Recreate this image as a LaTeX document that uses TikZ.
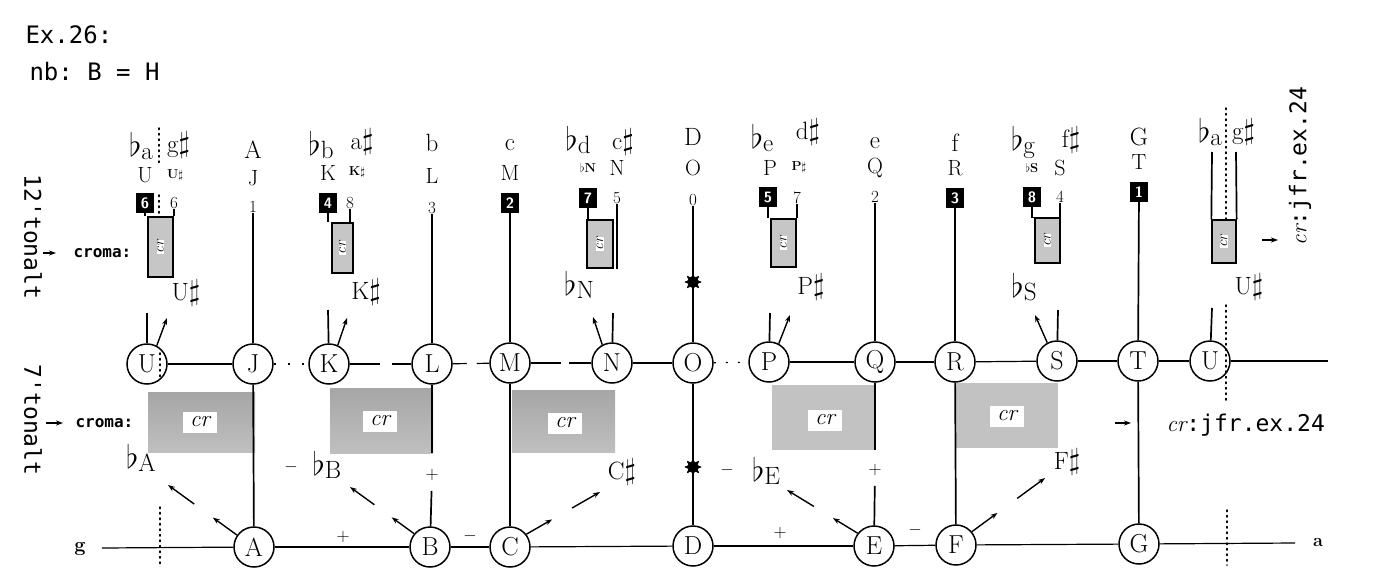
\documentclass[tikz,border=0pt]{standalone}
\usepackage{fontspec}
\usepackage{graphicx}
\setmonofont{DejaVu Sans Mono}
\usetikzlibrary{arrows.meta,calc,shapes.geometric}
\newcommand{\fs}[1]{\fontsize{#1}{#1}\selectfont}
\newcommand{\myfl}[1]{\scalebox{1.3}{$\flat$}\raisebox{-3pt}{#1}}
\newcommand{\shp}{\scalebox{1.2}{$\sharp$}}
\begin{document}
\begin{tikzpicture}[x=1pt,y=-1pt,
  circ/.style={circle,draw,line width=1.5pt,minimum size=40pt,inner sep=0pt,fill=white,font=\fs{26}},
  ln/.style={line width=1.7pt},
  hl/.style={line width=1.2pt},
  nbox/.style={fill=black,text=white,minimum width=18pt,minimum height=20pt,inner sep=0pt,font=\fs{15}\bfseries\sffamily},
  tbig/.style={inner sep=0pt,font=\fs{25}},
  tmid/.style={inner sep=0pt,font=\fs{22}},
  tsml/.style={inner sep=0pt,font=\fs{17}},
  ttny/.style={inner sep=0pt,font=\fs{13}\bfseries},
  gboxd/.style={top color=gray!70,bottom color=gray!50,draw=none,inner sep=0pt},
  gboxl/.style={fill=gray!48,draw=none,inner sep=0pt},
  crtag/.style={fill=white,inner sep=1pt,minimum width=34pt,minimum height=21pt,font=\fs{23}\itshape},
  sbox/.style={draw,line width=1.3pt,fill=gray!45,inner sep=0pt},
  crs/.style={fill=white,inner sep=0.5pt,rotate=90,font=\fs{15}\itshape},
  arr/.style={line width=1.4pt,-{Stealth[length=7pt,width=5pt]}},
  dotln/.style={line width=1.5pt,dash pattern=on 1.5pt off 4pt,line cap=round},
  strs/.style={star,star points=8,star point ratio=1.8,minimum size=17pt,fill=black,inner sep=0pt},
  sgn/.style={inner sep=0pt,font=\fs{18}},
]
\useasboundingbox (0,0) rectangle (1394,581);

% header
\node[anchor=west,font=\ttfamily\fs{24}] (ex) at (22,35) {Ex.26:};
\node[anchor=west,font=\ttfamily\fs{24}] (nb) at (26,72) {nb: B = H};
\node[rotate=-90,font=\ttfamily\fs{23}] (t12) at (33,237) {12'tonalt};
\node[rotate=-90,font=\ttfamily\fs{23}] (t7) at (33,420) {7'tonalt};
\node[anchor=west,font=\ttfamily\bfseries\fs{16}] (cro1) at (70,253) {croma:};
\node[anchor=west,font=\ttfamily\bfseries\fs{16}] (cro2) at (72,423) {croma:};
\coordinate (ca1) at (43,253); \coordinate (cb1) at (56,253);
\draw[arr] (ca1) -- (cb1);
\coordinate (ca2) at (46,423); \coordinate (cb2) at (63,423);
\draw[arr] (ca2) -- (cb2);

% grey boxes (7-tone row)
\node[gboxd,minimum width=107pt,minimum height=60pt] (gUJ) at (201.5,422) {};
\node[crtag] at (200,422) {cr};
\node[gboxd,minimum width=103pt,minimum height=65pt] (gKL) at (381.5,420.5) {};
\node[crtag] at (380,421) {cr};
\node[gboxd,minimum width=103pt,minimum height=62pt] (gMN) at (563.5,421) {};
\node[crtag] at (565,423) {cr};
\node[gboxl,minimum width=103pt,minimum height=65pt] (gPQ) at (823.5,417.5) {};
\node[crtag] at (825,420) {cr};
\node[gboxl,minimum width=103pt,minimum height=65pt] (gRS) at (1006.5,415.5) {};
\node[crtag] at (1007,416) {cr};

% middle row circles
\node[circ] (U1) at (147,364) {U};
\node[circ] (J) at (253,364) {J};
\node[circ] (K) at (329,364) {K};
\node[circ] (L) at (432,364) {L};
\node[circ] (M) at (510,363) {M};
\node[circ] (N) at (612,363) {N};
\node[circ] (O) at (693,363) {O};
\node[circ] (P) at (769,362) {P};
\node[circ] (Q) at (875,362) {Q};
\node[circ] (R) at (955,362) {R};
\node[circ] (S) at (1057,361) {S};
\node[circ] (T) at (1138,361) {T};
\node[circ] (U2) at (1210,361) {U};
\coordinate (mend) at (1328,361);

% bottom row circles
\node[circ] (A) at (254,547) {A};
\node[circ] (B) at (430,547) {B};
\node[circ] (C) at (510,547) {C};
\node[circ] (D) at (693,546) {D};
\node[circ] (E) at (874,546) {E};
\node[circ] (F) at (956,545) {F};
\node[circ] (G) at (1139,544) {G};
\coordinate (bstart) at (102,548);
\coordinate (bend) at (1295,543);
\node[inner sep=0pt,font=\fs{20}\bfseries] (gl) at (80,549) {g};
\node[inner sep=0pt,font=\fs{18}\bfseries] (al) at (1318,542) {a};

% horizontal lines
\draw[hl] (U1) -- (J);
\draw[hl,dash pattern=on 2pt off 12pt] (J) -- (K);
\draw[hl,dash pattern=on 30pt off 12pt] (K) -- (L);
\draw[hl,dash pattern=on 14pt off 10pt] (L) -- (M);
\draw[hl,dash pattern=on 30pt off 8pt] (M) -- (N);
\draw[hl] (N) -- (O);
\draw[hl,dash pattern=on 2pt off 10pt] (O) -- (P);
\draw[hl] (P) -- (Q);
\draw[hl] (Q) -- (R);
\draw[hl] (R) -- (S);
\draw[hl] (S) -- (T);
\draw[hl] (T) -- (U2);
\draw[hl] (U2) -- (mend);
\draw[hl] (bstart) -- (A);
\draw[hl] (A) -- (B);
\draw[hl] (B) -- (C);
\draw[hl] (C) -- (D);
\draw[hl] (D) -- (E);
\draw[hl] (E) -- (F);
\draw[hl] (F) -- (G);
\draw[hl] (G) -- (bend);

% ---- column U (left)
\node[tbig,anchor=east] (Ufl) at (153,146) {\myfl{a}};
\node[tbig,anchor=west] (Ush) at (167,145) {g\shp};
\node[tmid] (Ul) at (145,175) {U};
\node[ttny] (Uls) at (175,175) {U$\sharp$};
\node[nbox] (U6) at (145,203) {6};
\node[tsml] (U6b) at (174,203) {6};
\node[sbox,minimum width=25pt,minimum height=60pt] (Usb) at (160.5,247) {};
\node[crs] at (Usb) {cr};
\draw[ln] (U6) -- (U6 |- Usb.north);
\draw[ln] (U6b) -- (U6b |- Usb.north);
\node[tbig] (Ush2) at (186,293) {U\shp};
\coordinate (Ust) at (147,313);
\draw[ln] (Ust) -- (U1);
\coordinate (Uat) at (167,318);
\draw[arr] (U1.62) -- (Uat);
\coordinate (ud1) at (159,128); \coordinate (ud2) at (159,166);
\draw[dotln] (ud1) -- (ud2);
\coordinate (ud3) at (159,195); \coordinate (ud4) at (159,213);
\draw[dotln] (ud3) -- (ud4);
\coordinate (ud5) at (160,353); \coordinate (ud6) at (160,380);
\draw[dotln] (ud5) -- (ud6);
\coordinate (ud7) at (160,507); \coordinate (ud8) at (160,565);
\draw[dotln] (ud7) -- (ud8);

% ---- column J
\node[tbig] (JA) at (253,150) {A};
\node[tmid] (Jl) at (253,178) {J};
\node[tsml] (j1) at (253,207) {1};
\draw[ln] (j1) -- (J);
\draw[ln] (J) -- (A);

% ---- column K
\node[tbig] (Kfl) at (321,145) {\myfl{b}};
\node[tbig] (Ksh) at (362,142) {a\shp};
\node[tmid] (Kl) at (328,173) {K};
\node[ttny] (Kls) at (357,172) {K$\sharp$};
\node[nbox] (K4) at (328,203) {4};
\node[tsml] (K8) at (350,203) {8};
\node[sbox,minimum width=21pt,minimum height=50pt] (Ksb) at (342.5,248) {};
\node[crs] at (Ksb) {cr};
\draw[ln] (K4) -- (K4 |- Ksb.north);
\draw[ln] (K8) -- (K8 |- Ksb.north);
\node[tbig] (Ksh2) at (366,292) {K\shp};
\coordinate (Kst) at (328,310);
\draw[ln] (Kst) -- (K);
\coordinate (Kat) at (347,318);
\draw[arr] (K.65) -- (Kat);

% ---- column L
\node[tbig] (Lb) at (432,143) {b};
\node[tmid] (Ll) at (432,176) {L};
\node[tsml] (l3) at (432,208) {3};
\draw[ln] (l3) -- (L);
\coordinate (lb) at (432,453);
\draw[ln] (L) -- (lb);
\node[sgn] (lplus) at (432,475) {+};
\draw[ln,shorten <=10pt] (lplus) -- (B);

% ---- column M
\node[tbig] (Mc) at (510,145) {c};
\node[tmid] (Ml) at (510,173) {M};
\node[nbox] (M2) at (510,203) {2};
\draw[ln] (M2) -- (M);
\draw[ln] (M) -- (C);

% ---- column N
\node[tbig] (Nfl) at (578,140) {\myfl{d}};
\node[tbig] (Nsh) at (623,142) {c\shp};
\node[ttny] (Nls) at (588,168) {$\flat$N};
\node[tmid] (Nl) at (617,168) {N};
\node[nbox] (N7) at (588,198) {7};
\node[tsml] (N5) at (617,198) {5};
\node[sbox,minimum width=26pt,minimum height=48pt] (Nsb) at (600,244) {};
\node[crs] at (Nsb) {cr};
\draw[ln] (N7) -- (N7 |- Nsb.north);
\draw[line width=2.6pt] (N5) -- (N5 |- Nsb.south);
\node[tbig] (Nfl2) at (579,285) {\myfl{N}};
\coordinate (Nst) at (613,313);
\draw[ln] (Nst) -- (N);
\coordinate (Nat) at (593,317);
\draw[arr] (N.118) -- (Nat);

% ---- column O
\node[tbig] (OD) at (693,137) {D};
\node[tmid] (Ol) at (693,168) {O};
\node[tsml] (o0) at (693,200) {0};
\node[strs] (st1) at (693,282) {};
\node[strs] (st2) at (693,467) {};
\draw[line width=2.6pt] (o0) -- (O);
\draw[line width=2.6pt] (O) -- (D);
\node[strs] at (st1) {};
\node[strs] at (st2) {};

% ---- column P
\node[tbig] (Pfl) at (762,138) {\myfl{e}};
\node[tbig] (Psh) at (808,132) {d\shp};
\node[tmid] (Pl) at (770,168) {P};
\node[ttny] (Pls) at (799,167) {P$\sharp$};
\node[nbox] (P5) at (768,197) {5};
\node[tsml] (P7) at (797,198) {7};
\node[sbox,minimum width=25pt,minimum height=48pt] (Psb) at (783.5,243) {};
\node[crs] at (Psb) {cr};
\draw[ln] (P5) -- (P5 |- Psb.north);
\draw[ln] (P7) -- (P7 |- Psb.north);
\node[tbig] (Psh2) at (811,287) {P\shp};
\coordinate (Pst) at (770,313);
\draw[ln] (Pst) -- (P);
\coordinate (Pat) at (790,315);
\draw[arr] (P.62) -- (Pat);

% ---- column Q
\node[tbig] (Qe) at (875,143) {e};
\node[tmid] (Ql) at (875,168) {Q};
\node[tsml] (q2) at (875,197) {2};
\draw[ln] (q2) -- (Q);
\coordinate (qb) at (875,450);
\draw[ln] (Q) -- (qb);
\node[sgn] (qplus) at (875,470) {+};
\draw[ln,shorten <=10pt] (qplus) -- (E);

% ---- column R
\node[tbig] (Rf) at (955,143) {f};
\node[tmid] (Rl) at (955,168) {R};
\node[nbox] (R3) at (955,198) {3};
\draw[ln] (R3) -- (R);
\draw[ln] (R) -- (F);

% ---- column S
\node[tbig] (Sfl) at (1023,142) {\myfl{g}};
\node[tbig] (Ssh) at (1071,140) {f\shp};
\node[ttny] (Sls) at (1032,168) {$\flat$S};
\node[tmid] (Sl) at (1060,168) {S};
\node[nbox] (S8) at (1032,197) {8};
\node[tsml] (S4) at (1060,197) {4};
\node[sbox,minimum width=25pt,minimum height=45pt] (Ssb) at (1047.5,240.5) {};
\node[crs] at (Ssb) {cr};
\draw[ln] (S8) |- (Ssb.north west);
\draw[ln] (S4) -- (S4 |- Ssb.north);
\node[tbig] (Sfl2) at (1024,287) {\myfl{S}};
\coordinate (Sst) at (1058,310);
\draw[ln] (Sst) -- (S);
\coordinate (Sat) at (1035,315);
\draw[arr] (S.118) -- (Sat);

% ---- column T
\node[tbig] (TG) at (1139,137) {G};
\node[tmid] (Tl) at (1139,162) {T};
\node[nbox] (T1) at (1139,192) {1};
\draw[ln] (T1) -- (T);
\draw[ln] (T) -- (G);

% ---- column U (right)
\node[tbig,anchor=east] (Vfl) at (1222,132) {\myfl{a}};
\node[tbig,anchor=west] (Vsh) at (1232,132) {g\shp};
\node[sbox,minimum width=24pt,minimum height=43pt] (Vsb) at (1224,241.5) {};
\node[crs] at (Vsb) {cr};
\coordinate (vl) at (1212,152); \coordinate (vr) at (1236,152);
\draw[ln] (vl) -- (Vsb.north west);
\draw[ln] (vr) -- (Vsb.north east);
\coordinate (vd1) at (1226,108); \coordinate (vd2) at (1226,220);
\draw[dotln] (vd1) -- (vd2);
\node[tbig] (Vsh2) at (1249,287) {U\shp};
\coordinate (Vst) at (1212,308);
\draw[ln] (Vst) -- (U2);
\coordinate (vd3) at (1226,305); \coordinate (vd4) at (1226,402);
\draw[dotln] (vd3) -- (vd4);
\coordinate (vd5) at (1227,510); \coordinate (vd6) at (1227,565);
\draw[dotln] (vd5) -- (vd6);
\coordinate (ra1) at (1262,240); \coordinate (ra2) at (1278,240);
\draw[arr] (ra1) -- (ra2);
\node[rotate=90,font=\ttfamily\fs{23}] (crv) at (1300,166) {{\rmfamily\itshape cr}:jfr.ex.24};

% ---- bottom labels and arrows
\node[tbig] (bA) at (141,458) {\myfl{A}};
\coordinate (aT) at (168,485);
\draw[arr] (A.145) -- ($(A.145)!0.35!(aT)$);
\draw[arr] ($(A.145)!0.62!(aT)$) -- (aT);

\node[sgn] (m1) at (291,467) {$-$};
\node[tbig] (bB) at (327,465) {\myfl{B}};
\coordinate (bT) at (350,487);
\draw[arr] (B.140) -- ($(B.140)!0.35!(bT)$);
\draw[arr] ($(B.140)!0.62!(bT)$) -- (bT);
\node[sgn] (p1) at (343,537) {+};
\node[sgn] (m2) at (470,536) {$-$};

\node[tbig] (cs) at (622,472) {C\shp};
\coordinate (cT) at (600,492);
\draw[arr] (C.38) -- ($(C.38)!0.35!(cT)$);
\draw[arr] ($(C.38)!0.62!(cT)$) -- (cT);

\node[sgn] (m3) at (727,470) {$-$};
\node[tbig] (bE) at (766,471) {\myfl{E}};
\coordinate (eT) at (787,490);
\draw[arr] (E.142) -- ($(E.142)!0.35!(eT)$);
\draw[arr] ($(E.142)!0.62!(eT)$) -- (eT);
\node[sgn] (p2) at (780,533) {+};
\node[sgn] (m4) at (915,530) {$-$};

\node[tbig] (fs) at (1067,462) {F\shp};
\coordinate (fT) at (1045,478);
\draw[arr] (F.40) -- ($(F.40)!0.35!(fT)$);
\draw[arr] ($(F.40)!0.62!(fT)$) -- (fT);

\coordinate (ta1) at (1115,423); \coordinate (ta2) at (1131,423);
\draw[arr] (ta1) -- (ta2);
\node[anchor=west,font=\ttfamily\fs{23}] (crh) at (1163,425) {{\rmfamily\itshape cr}:jfr.ex.24};
\end{tikzpicture}
\end{document}
